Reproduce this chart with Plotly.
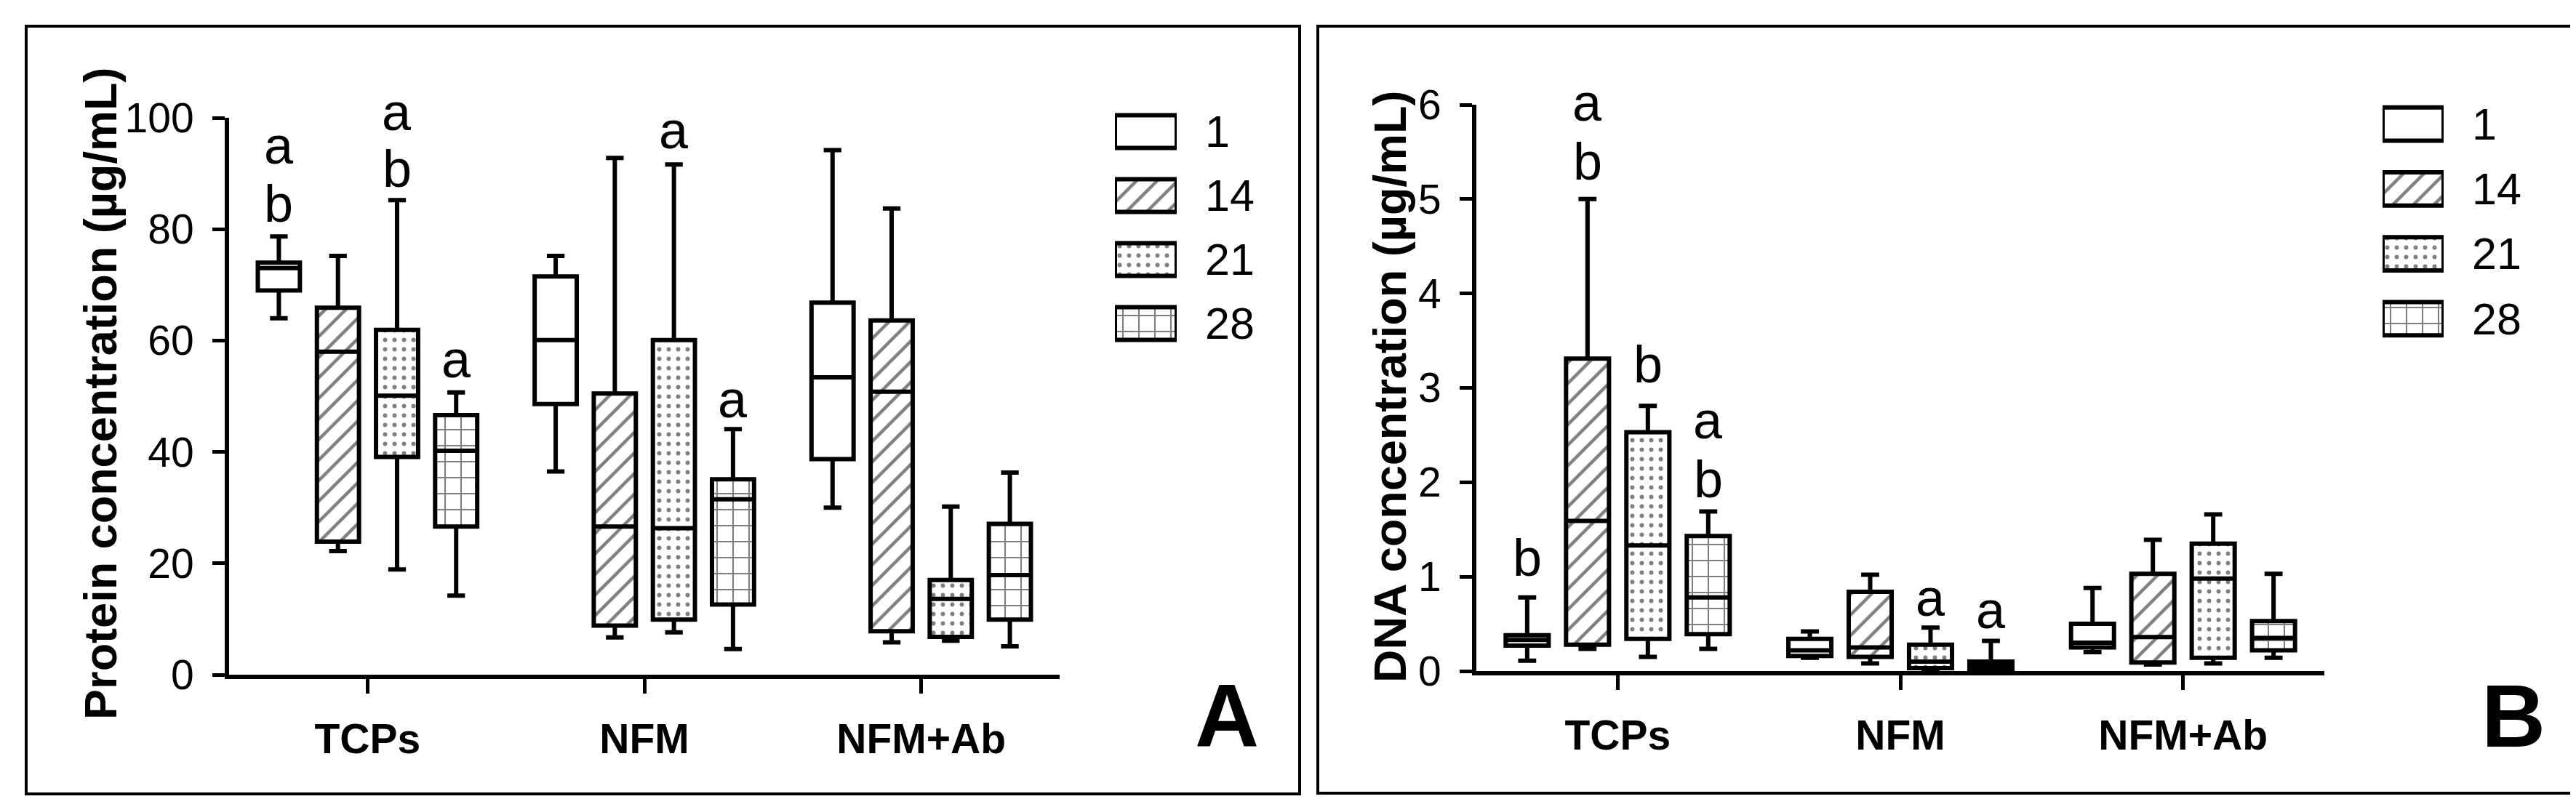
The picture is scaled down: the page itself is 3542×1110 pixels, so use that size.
import plotly.graph_objects as go

W, H = 3542, 1110

categories = ["TCPs", "NFM", "NFM+Ab"]
days = ["1", "14", "21", "28"]

# Panel A - protein concentration (ug/mL), one list per day over the categories
prot_min = {"1": [64.0, 36.5, 30.0], "14": [22.2, 6.7, 5.8], "21": [18.9, 7.6, 6.1], "28": [14.2, 4.6, 5.1]}
prot_q1 = {"1": [69.0, 48.6, 38.7], "14": [23.9, 8.8, 7.8], "21": [39.1, 9.9, 6.8], "28": [26.6, 12.6, 9.9]}
prot_med = {"1": [73.0, 60.1, 53.4], "14": [58.0, 26.6, 50.8], "21": [50.1, 26.3, 13.6], "28": [40.2, 31.5, 17.9]}
prot_q3 = {"1": [74.0, 71.5, 66.8], "14": [65.9, 50.5, 63.6], "21": [61.9, 60.1, 17.0], "28": [46.6, 35.1, 27.1]}
prot_max = {"1": [78.7, 75.2, 94.2], "14": [75.2, 92.8, 83.7], "21": [85.2, 91.6, 30.2], "28": [50.7, 44.1, 36.3]}

# Panel B - DNA concentration (ug/mL)
dna_min = {"1": [0.11, 0.14, 0.20], "14": [0.235, 0.08, 0.07], "21": [0.15, 0.01, 0.08], "28": [0.235, 0.01, 0.14]}
dna_q1 = {"1": [0.27, 0.16, 0.25], "14": [0.28, 0.15, 0.09], "21": [0.34, 0.03, 0.14], "28": [0.39, 0.02, 0.22]}
dna_med = {"1": [0.33, 0.22, 0.30], "14": [1.59, 0.25, 0.36], "21": [1.33, 0.10, 0.98], "28": [0.78, 0.06, 0.35]}
dna_q3 = {"1": [0.38, 0.34, 0.50], "14": [3.31, 0.84, 1.03], "21": [2.53, 0.28, 1.35], "28": [1.43, 0.10, 0.53]}
dna_max = {"1": [0.78, 0.42, 0.88], "14": [5.00, 1.02, 1.39], "21": [2.81, 0.46, 1.66], "28": [1.69, 0.32, 1.03]}

prot_range = [0, 100]
dna_range = [0, 6]

# significance letters: (category, day, y, letter)
prot_letters = [("TCPs", "1", 95.0, "a"), ("TCPs", "1", 84.6, "b"),
                ("TCPs", "21", 101.0, "a"), ("TCPs", "21", 90.8, "b"),
                ("TCPs", "28", 56.7, "a"),
                ("NFM", "21", 97.8, "a"), ("NFM", "28", 49.5, "a")]
dna_letters = [("TCPs", "1", 1.20, "b"),
               ("TCPs", "14", 6.02, "a"), ("TCPs", "14", 5.40, "b"),
               ("TCPs", "21", 3.25, "b"),
               ("TCPs", "28", 2.66, "a"), ("TCPs", "28", 2.03, "b"),
               ("NFM", "21", 0.78, "a"), ("NFM", "28", 0.65, "a")]

patterns = {"1": "", "14": "/", "21": ".", "28": "+"}
pattern_size = {"1": 10, "14": 20, "21": 13, "28": 22}
pattern_solidity = {"1": 0.2, "14": 0.22, "21": 0.16, "28": 0.18}

SANS = "Liberation Sans, Arial, sans-serif"
GAP, GROUPGAP = 0.146, 0.288
LW = 6


def pattern(day):
    return dict(shape=patterns[day], fgcolor="black", bgcolor="white",
                size=pattern_size[day], solidity=pattern_solidity[day])


fig = go.Figure()

panels = [("x", "y", prot_min, prot_q1, prot_med, prot_q3, prot_max),
          ("x2", "y2", dna_min, dna_q1, dna_med, dna_q3, dna_max)]

for xa, ya, mn, q1, med, q3, mx in panels:
    for d in days:
        # patterned fill of the box (q1..q3)
        fig.add_trace(go.Bar(
            x=categories, y=[b - a for a, b in zip(q1[d], q3[d])], base=q1[d],
            marker=dict(color="white", pattern=pattern(d), line=dict(width=0)),
            offsetgroup=d, xaxis=xa, yaxis=ya, showlegend=False, hoverinfo="skip"))
        # outline, median and whiskers
        fig.add_trace(go.Box(
            x=categories, q1=q1[d], median=med[d], q3=q3[d],
            lowerfence=mn[d], upperfence=mx[d],
            fillcolor="rgba(0,0,0,0)", line=dict(color="black", width=LW),
            whiskerwidth=0.42, boxpoints=False, offsetgroup=d,
            xaxis=xa, yaxis=ya, showlegend=False))

# legend swatches as small horizontal bars on their own axes
for xa, ya in [("x3", "y3"), ("x4", "y4")]:
    for d in days:
        fig.add_trace(go.Bar(
            x=[1], y=[d], base=0, orientation="h", width=0.51, offset=-0.255,
            marker=dict(color="white", pattern=pattern(d), line=dict(color="black", width=LW)),
            cliponaxis=False, xaxis=xa, yaxis=ya, showlegend=False, hoverinfo="skip"))

slot = (1 - GAP) / len(days)
annotations = []
for letters, xa, ya, rng in [(prot_letters, "x", "y", prot_range), (dna_letters, "x2", "y2", dna_range)]:
    for cat, d, yv, txt in letters:
        xpos = categories.index(cat) + (days.index(d) - 1.5) * slot
        annotations.append(dict(x=xpos, y=(yv - rng[0]) / (rng[1] - rng[0]),
                                xref=xa, yref=ya + " domain", text=txt, showarrow=False,
                                xanchor="center", yanchor="middle",
                                font=dict(family=SANS, size=72, color="black")))

# axis titles and panel letters
annotations += [
    dict(x=130 / W, y=0.519, xref="paper", yref="paper", text="Protein concentration (µg/mL)",
         textangle=-90, showarrow=False, xanchor="center", yanchor="middle",
         font=dict(family=SANS, size=63, color="black", weight="bold")),
    dict(x=1903 / W, y=0.528, xref="paper", yref="paper", text="DNA concentration (µg/mL)",
         textangle=-90, showarrow=False, xanchor="center", yanchor="middle",
         font=dict(family=SANS, size=63, color="black", weight="bold")),
    dict(x=1679 / W, y=1 - 977 / H, xref="paper", yref="paper", text="A",
         showarrow=False, xanchor="center", yanchor="middle",
         font=dict(family=SANS, size=122, color="black", weight="bold")),
    dict(x=3448 / W, y=1 - 977 / H, xref="paper", yref="paper", text="B",
         showarrow=False, xanchor="center", yanchor="middle",
         font=dict(family=SANS, size=122, color="black", weight="bold")),
]

cat_axis = dict(type="category", categoryorder="array", categoryarray=categories,
                range=[-0.5, 2.5], showline=True, linecolor="black", linewidth=6,
                ticks="outside", ticklen=20, tickwidth=5, tickcolor="black",
                showgrid=False, zeroline=False, ticklabelstandoff=14, automargin=False,
                tickfont=dict(family=SANS, size=57, color="black", weight="bold"))
val_axis = dict(showline=True, linecolor="black", linewidth=6,
                ticks="outside", ticklen=17, tickwidth=5, tickcolor="black",
                showgrid=False, zeroline=False, ticklabelstandoff=14, automargin=False,
                tickfont=dict(family=SANS, size=57, color="black"))
legend_y = dict(type="category", categoryorder="array", categoryarray=days,
                autorange="reversed", side="right", showline=False, showgrid=False,
                zeroline=False, ticks="", ticklabelstandoff=38, automargin=False,
                tickfont=dict(family=SANS, size=61, color="black"))
legend_x = dict(range=[0, 1], visible=False, showgrid=False, zeroline=False, automargin=False)

fig.update_layout(
    width=W, height=H,
    margin=dict(l=0, r=0, t=0, b=0, pad=0),
    paper_bgcolor="white", plot_bgcolor="rgba(0,0,0,0)",
    barmode="group", bargap=GAP, bargroupgap=GROUPGAP,
    boxmode="group", boxgap=GAP, boxgroupgap=GROUPGAP,
    showlegend=False,
    xaxis=dict(cat_axis, domain=[307 / W, 1449 / W], anchor="y"),
    yaxis=dict(val_axis, domain=[1 - 920 / H, 1 - 154 / H], range=prot_range, dtick=20, anchor="x"),
    xaxis2=dict(cat_axis, domain=[2022 / W, 3188 / W], anchor="y2"),
    yaxis2=dict(val_axis, domain=[1 - 915 / H, 1 - 136 / H], range=dna_range, dtick=1, anchor="x2"),
    xaxis3=dict(legend_x, domain=[1525 / W, 1610 / W], anchor="y3"),
    yaxis3=dict(legend_y, domain=[1 - 481 / H, 1 - 129 / H], anchor="x3"),
    xaxis4=dict(legend_x, domain=[3268 / W, 3352 / W], anchor="y4"),
    yaxis4=dict(legend_y, domain=[1 - 475 / H, 1 - 118 / H], anchor="x4"),
    annotations=annotations,
    shapes=[
        dict(type="rect", xref="paper", yref="paper", x0=28 / W, x1=1779 / W,
             y0=1 - 1084 / H, y1=1 - 28 / H, line=dict(color="black", width=4)),
        dict(type="rect", xref="paper", yref="paper", x0=1804 / W, x1=3530 / W,
             y0=1 - 1083 / H, y1=1 - 28 / H, line=dict(color="black", width=4)),
    ],
)

fig.write_html("out.html")
